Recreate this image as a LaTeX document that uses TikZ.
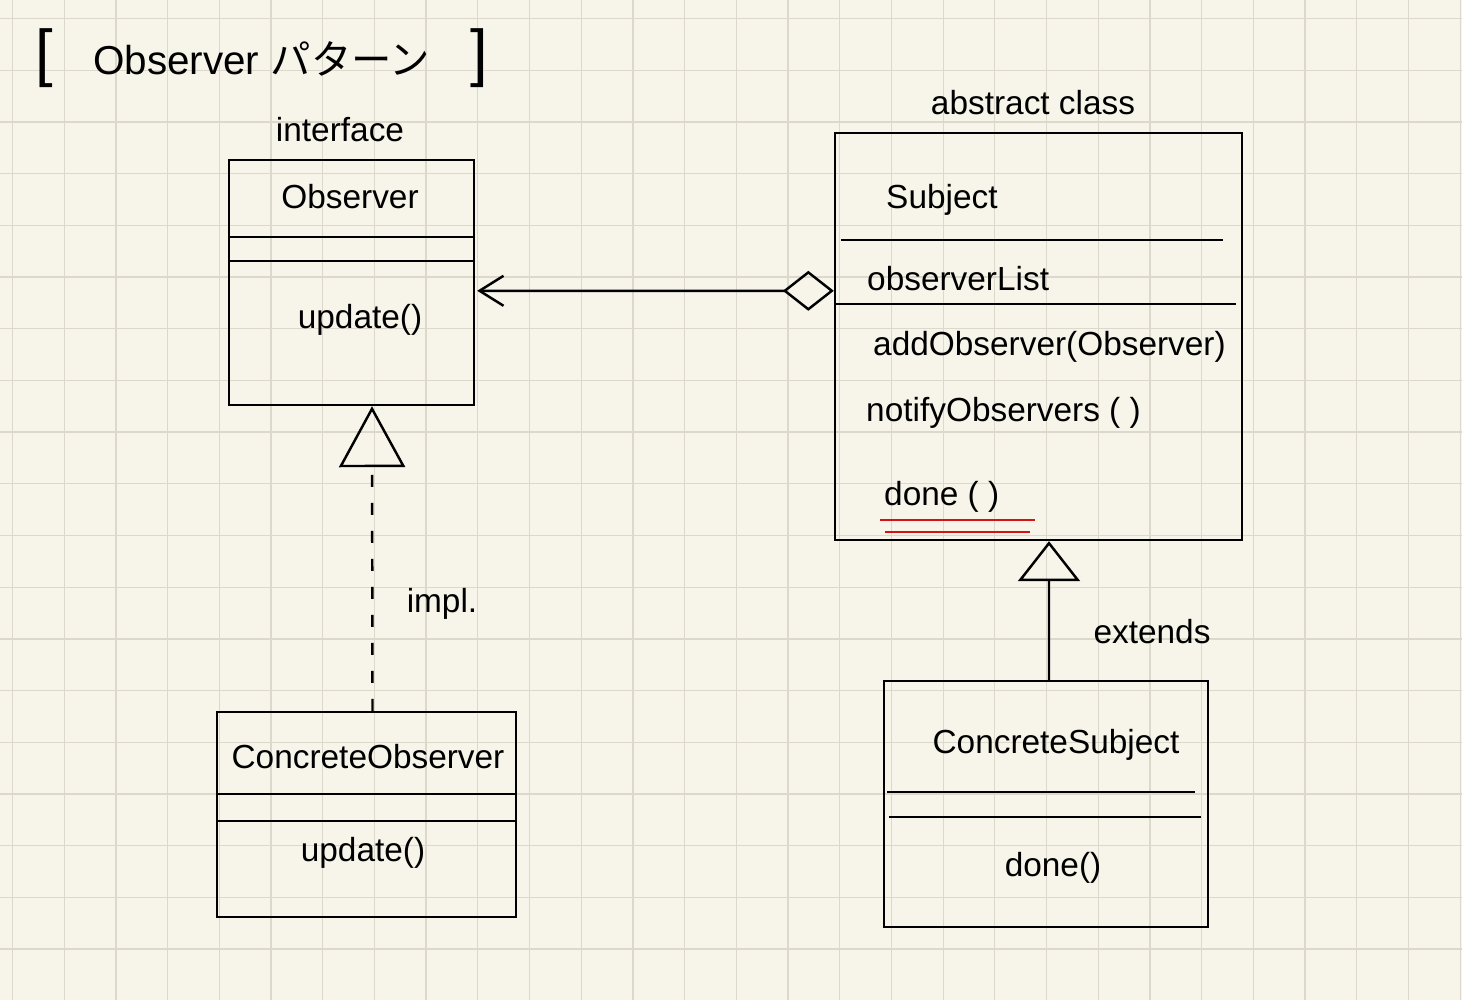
\documentclass[tikz,border=0pt]{standalone}
\usepackage{fontspec}
\setmainfont{Liberation Sans}
\newfontfamily\jpfont{Noto Sans CJK JP}
\usepackage{tikz}
\definecolor{Paper}{HTML}{F7F5EA}
\definecolor{GridGray}{HTML}{DCD8CB}
\definecolor{MarkRed}{HTML}{D41414}
\usetikzlibrary{arrows.meta,calc,positioning}

\begin{document}
\begin{tikzpicture}[x=0.02cm, y=-0.02cm, line width=1.4pt,
        cls/.style={draw, inner sep=0pt},
        txt/.style={font=\fontsize{19}{23}\selectfont, inner sep=0pt},
        gridline/.style={draw=GridGray, line width=0.7pt},
        realize/.style={dashed, dash pattern=on 0.24cm off 0.32cm, -{Triangle[open, length=1.22cm, width=1.32cm, line width=1.4pt]}},
        inherit/.style={-{Triangle[open, length=0.8cm, width=1.24cm, line width=1.4pt]}},
        aggr/.style={{Diamond[open, length=1.02cm, width=0.8cm, line width=1.4pt]}-{Straight Barb[length=0.48cm, width=0.6cm, line width=1.4pt]}}]
            % paper and grid
            \useasboundingbox (0,0) rectangle (1462,1000);
            \fill[Paper] (0,0) rectangle (1462,1000);
            \foreach \i in {0,...,28}{
                \draw[gridline] ({12.5+51.7*\i},0) -- ++(0,1000);
            }
            \foreach \j in {0,...,18}{
                \draw[gridline] (0,{18.5+51.7*\j}) -- ++(1462,0);
            }

            % title
            \node[font=\fontsize{23}{27}\selectfont, inner sep=0pt, anchor=west] (title) at (34,58) {{\fontsize{36}{36}\selectfont[}\quad Observer {\jpfont パターン}\quad {\fontsize{36}{36}\selectfont]}};

            % Draw the class boxes
            \node[cls, minimum width=4.9cm, minimum height=4.9cm] (obs) at (351.5,282.5) {};
            \node[cls, minimum width=5.98cm, minimum height=4.1cm] (cobs) at (366.5,814.5) {};
            \node[cls, minimum width=8.14cm, minimum height=8.14cm] (subj) at (1038.5,336.5) {};
            \node[cls, minimum width=6.48cm, minimum height=4.92cm] (csubj) at (1046,804) {};

            % stereotypes above the boxes
            \node[txt] (obsType) at (340,130) {interface};
            \node[txt] (subjType) at (1033,103) {abstract class};

            % Observer
            \node[txt] (obsName) at (350,197) {Observer};
            \draw ($(obs.north west)+(0,78)$) -- ($(obs.north east)+(0,78)$);
            \draw ($(obs.north west)+(0,102)$) -- ($(obs.north east)+(0,102)$);
            \node[txt] (obsUpdate) at (360,320) {update()};

            % ConcreteObserver
            \node[txt] (cobsName) at (368,757) {ConcreteObserver};
            \draw ($(cobs.north west)+(0,83)$) -- ($(cobs.north east)+(0,83)$);
            \draw ($(cobs.north west)+(0,110)$) -- ($(cobs.north east)+(0,110)$);
            \node[txt] (cobsUpdate) at (363,853) {update()};

            % Subject
            \node[txt, anchor=west] (subjName) at (885,200) {Subject};
            \draw ($(subj.north west)+(7,108)$) -- ($(subj.north east)+(-20,108)$);
            \node[txt, anchor=west] (obsList) at (866,279) {observerList};
            \draw ($(subj.north west)+(0,172)$) -- ($(subj.north east)+(-7,172)$);
            \node[txt, anchor=west] (addObs) at (872,347) {addObserver(Observer)};
            \node[txt, anchor=west] (notify) at (865,413) {notifyObservers ( )};
            \node[txt, anchor=west] (done) at (883,497) {done ( )};
            \draw[MarkRed, line width=1.6pt] ($(done.west)+(-3,23)$) -- ++(155,0);
            \draw[MarkRed, line width=1.6pt] ($(done.west)+(2,35)$) -- ++(145,0);

            % ConcreteSubject
            \node[txt] (csubjName) at (1056,745) {ConcreteSubject};
            \draw ($(csubj.north west)+(4,112)$) -- ($(csubj.north east)+(-14,112)$);
            \draw ($(csubj.north west)+(6,137)$) -- ($(csubj.north east)+(-8,137)$);
            \node[txt] (csubjDone) at (1053,868) {done()};

            % Draw the relations
            \draw[aggr] ($(subj.north west)+(0,159)$) -- ($(obs.north east)+(2,132)$);
            \draw[realize] ($(cobs.north)+(6,0)$) -- ($(obs.south)+(20.5,0)$);
            \draw[inherit] ($(csubj.north)+(3,0)$) -- ($(subj.south)+(10.5,0)$);
            \node[txt] (implLabel) at (442,604) {impl.};
            \node[txt] (extLabel) at (1152,632) {extends};
        \end{tikzpicture}
\end{document}
